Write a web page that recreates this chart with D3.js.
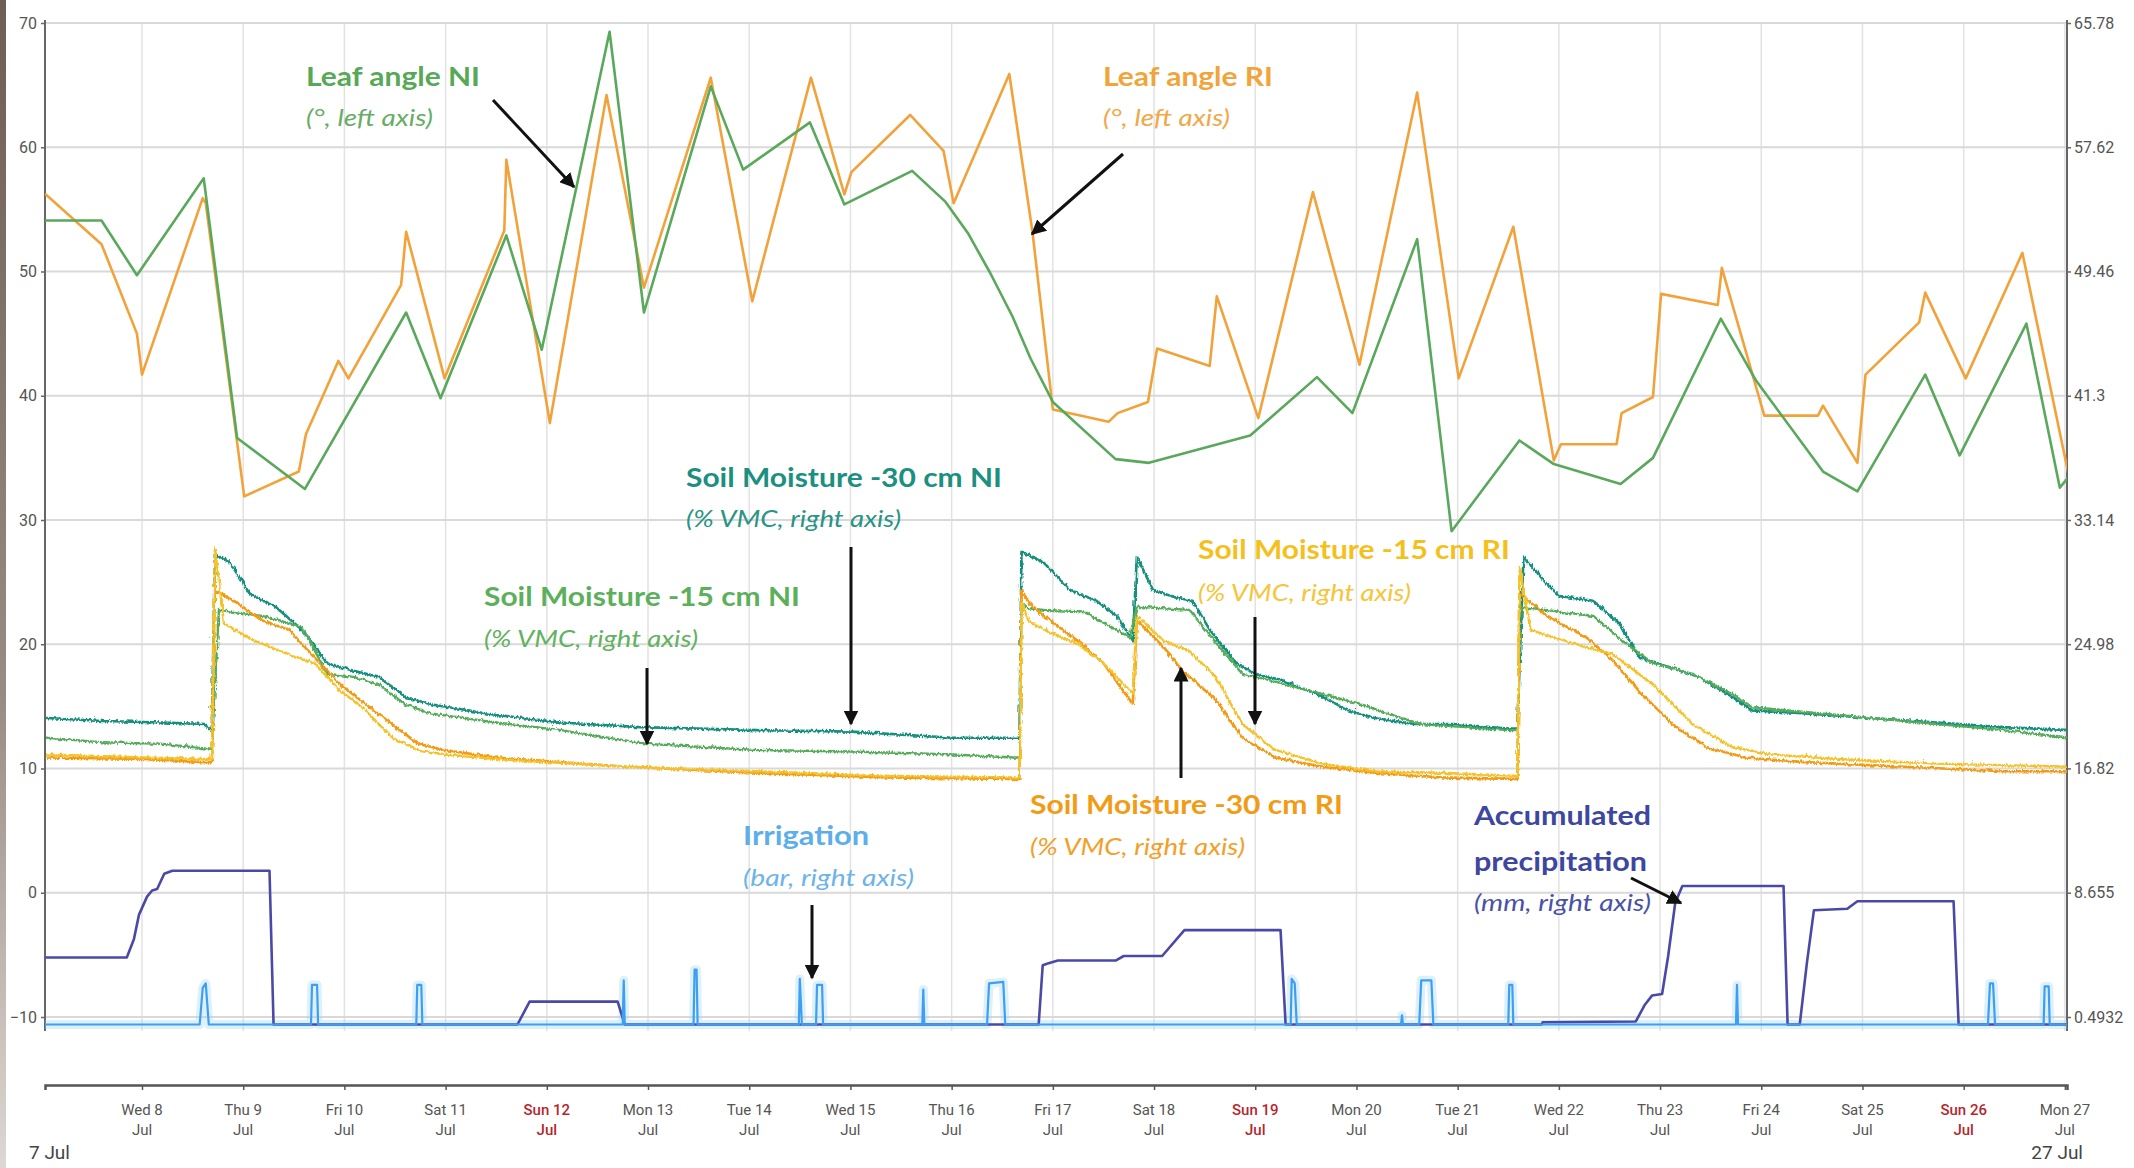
<!DOCTYPE html>
<html><head><meta charset="utf-8">
<script src="https://cdn.jsdelivr.net/npm/d3@7/dist/d3.min.js"></script>
<style>body{margin:0;background:#fff}svg{display:block}</style>
</head><body><svg id="c" width="2134" height="1168"></svg>
<script>
// ---------- DATA (time = fractional day of July 2020) ----------
const dayTicks = [8,9,10,11,12,13,14,15,16,17,18,19,20,21,22,23,24,25,26,27];
const leftTicks = [-10,0,10,20,30,40,50,60,70];
const rightTicks = [0.4932,8.655,16.82,24.98,33.14,41.3,49.46,57.62,65.78];
const rightTickLabels = ["0.4932","8.655","16.82","24.98","33.14","41.3","49.46","57.62","65.78"];

// Leaf angle (°, left axis)
const leafNI = [[7.05,54.1],[7.6,54.1],[7.95,49.7],[8.61,57.5],[8.94,36.6],[9.61,32.5],[10.61,46.7],[10.95,39.8],[11.6,52.9],[11.95,43.7],[12.62,69.3],[12.96,46.7],[13.62,64.9],[13.94,58.2],[14.6,62],[14.94,55.4],[15.61,58.1],[15.94,55.6],[16.16,53.1],[16.38,49.9],[16.6,46.4],[16.78,43],[17.0,39.5],[17.62,34.9],[17.95,34.6],[18.95,36.8],[19.61,41.5],[19.96,38.6],[20.6,52.6],[20.94,29.1],[21.61,36.4],[21.95,34.5],[22.61,32.9],[22.93,35],[23.6,46.2],[23.95,41.2],[24.61,33.9],[24.95,32.3],[25.62,41.7],[25.96,35.2],[26.62,45.8],[26.95,32.6],[27.04,33.5]];
const leafRI = [[7.05,56.2],[7.6,52.2],[7.95,45],[8.0,41.7],[8.6,55.9],[8.63,55.5],[9.01,31.9],[9.55,33.9],[9.62,36.9],[9.94,42.8],[10.04,41.4],[10.56,48.9],[10.61,53.2],[10.99,41.4],[11.58,53.3],[11.6,59],[12.03,37.8],[12.59,64.2],[12.96,48.7],[13.62,65.6],[14.03,47.6],[14.61,65.6],[14.94,56.2],[15.01,58],[15.59,62.6],[15.92,59.7],[16.02,55.5],[16.57,65.9],[16.8,53.1],[17.0,38.9],[17.55,37.9],[17.64,38.6],[17.94,39.5],[18.03,43.8],[18.55,42.4],[18.62,48],[19.03,38.2],[19.57,56.4],[20.03,42.5],[20.6,64.4],[21.01,41.4],[21.55,53.6],[21.95,34.8],[22.02,36.1],[22.57,36.1],[22.62,38.6],[22.93,39.9],[23.01,48.2],[23.57,47.3],[23.61,50.3],[24.03,38.4],[24.56,38.4],[24.61,39.2],[24.95,34.6],[25.03,41.7],[25.56,45.9],[25.62,48.3],[26.02,41.4],[26.58,51.5],[27.04,33.5]];

// Soil moisture (% VMC, right axis)
const soil30NI = [[7.05,20.2],[7.6,20.0],[8.2,19.9],[8.6,19.8],[8.68,19.4],[8.71,31.0],[8.86,30.4],[9.05,28.4],[9.31,27.5],[9.57,26.0],[9.82,23.8],[10.08,23.3],[10.33,22.9],[10.59,21.6],[10.84,21.1],[11.49,20.4],[12.13,19.9],[12.91,19.6],[14.06,19.4],[15.0,19.3],[16.0,18.9],[16.6,18.9],[16.66,18.9],[16.68,31.1],[16.75,30.9],[16.9,30.4],[17.16,28.6],[17.42,27.9],[17.62,26.9],[17.78,25.3],[17.82,30.8],[17.98,28.6],[18.21,28.1],[18.37,27.9],[18.54,26.0],[18.8,23.8],[18.99,23.1],[19.25,22.7],[19.65,21.6],[19.91,20.7],[20.17,20.2],[20.56,19.8],[20.95,19.8],[21.48,19.5],[21.58,19.5],[21.64,30.8],[21.87,29.0],[22.0,28.2],[22.33,27.9],[22.59,26.4],[22.78,24.2],[23.05,23.6],[23.37,22.9],[23.7,21.6],[23.9,20.7],[24.42,20.5],[25.07,20.2],[25.73,19.9],[26.38,19.6],[27.04,19.4]];
const soil15NI = [[7.05,18.9],[7.6,18.6],[8.2,18.5],[8.6,18.2],[8.68,18.2],[8.75,27.3],[9.18,26.9],[9.57,26.2],[9.82,23.1],[10.08,22.9],[10.33,22.4],[10.59,21.1],[10.84,20.5],[11.49,19.9],[12.13,19.4],[12.98,18.5],[14.06,18.1],[15.0,18.0],[16.0,17.8],[16.6,17.6],[16.66,17.6],[16.68,27.8],[16.75,27.4],[16.9,27.3],[17.29,27.2],[17.75,25.5],[17.82,27.5],[18.34,27.3],[18.47,26.2],[18.86,23.1],[19.12,22.7],[19.52,22.0],[20.04,21.1],[20.43,20.2],[20.63,19.8],[21.48,19.4],[21.58,19.4],[21.61,27.5],[22.33,26.9],[22.65,25.1],[22.92,23.8],[23.31,23.1],[23.7,21.8],[23.9,20.9],[24.75,20.4],[25.73,19.8],[26.38,19.4],[27.04,18.9]];
const soil30RI = [[7.05,17.6],[8.0,17.5],[8.6,17.3],[8.68,17.3],[8.71,28.6],[8.92,27.8],[9.18,26.6],[9.44,26.0],[9.69,24.2],[9.95,22.4],[10.2,21.1],[10.46,19.8],[10.72,18.5],[10.98,18.1],[11.49,17.6],[12.78,17.0],[14.06,16.6],[15.35,16.3],[16.6,16.2],[16.66,16.2],[16.68,28.6],[16.75,27.8],[16.9,26.9],[17.23,25.3],[17.49,23.8],[17.78,21.1],[17.82,26.6],[18.08,24.9],[18.27,23.3],[18.6,21.4],[18.86,18.9],[19.19,17.6],[19.65,17.0],[20.17,16.6],[20.82,16.3],[21.54,16.2],[21.58,16.2],[21.6,28.4],[21.87,26.9],[22.26,25.5],[22.52,24.0],[22.78,22.0],[23.11,19.8],[23.44,18.3],[23.83,17.6],[24.42,17.3],[25.4,17.0],[26.38,16.7],[27.04,16.7]];
const soil15RI = [[7.05,17.8],[8.0,17.6],[8.6,17.5],[8.68,17.5],[8.71,31.4],[8.8,26.4],[9.09,25.3],[9.44,24.4],[9.69,23.8],[9.95,22.0],[10.2,20.7],[10.46,18.9],[10.72,18.1],[10.98,17.8],[11.49,17.5],[12.78,17.0],[14.06,16.7],[15.35,16.4],[16.6,16.3],[16.66,16.3],[16.68,27.8],[16.75,26.6],[16.9,26.0],[17.23,25.1],[17.49,23.8],[17.78,21.8],[17.82,26.9],[18.08,25.3],[18.34,24.6],[18.6,22.9],[18.86,19.8],[19.19,18.1],[19.65,17.2],[20.17,16.7],[20.82,16.6],[21.54,16.4],[21.58,16.4],[21.6,30.1],[21.71,26.0],[22.13,25.1],[22.52,24.4],[22.92,22.4],[23.31,19.8],[23.7,18.3],[24.09,17.8],[24.75,17.5],[25.73,17.2],[27.04,17.0]];

// Irrigation (bar, right axis)
const irrigation = [[7.05,0],[8.57,0],[8.6,2.4],[8.63,2.7],[8.66,0],[9.67,0],[9.68,2.6],[9.73,2.6],[9.74,0],[10.71,0],[10.72,2.6],[10.76,2.6],[10.77,0],[12.75,0],[12.76,2.9],[12.77,0],[13.45,0],[13.46,3.6],[13.48,3.6],[13.49,0],[14.49,0],[14.5,3.0],[14.52,0],[14.66,0],[14.67,2.6],[14.72,2.6],[14.73,0],[15.71,0],[15.72,2.3],[15.73,0],[16.35,0],[16.37,2.7],[16.51,2.8],[16.53,0],[19.35,0],[19.36,3.0],[19.39,2.7],[19.41,0],[20.44,0],[20.45,0.6],[20.46,0],[20.62,0],[20.64,2.9],[20.74,2.9],[20.76,0],[21.5,0],[21.51,2.6],[21.54,2.6],[21.55,0],[23.75,0],[23.76,2.6],[23.77,0],[26.24,0],[26.26,2.7],[26.29,2.7],[26.31,0],[26.79,0],[26.8,2.5],[26.84,2.5],[26.85,0],[27.04,0]];

// Accumulated precipitation (mm, right axis)
const precipitation = [[7.05,4.4],[7.85,4.4],[7.92,5.6],[7.97,7.2],[8.05,8.4],[8.1,8.8],[8.15,8.9],[8.22,9.9],[8.3,10.1],[9.26,10.1],[9.3,0],[11.71,0],[11.83,1.5],[12.7,1.5],[12.77,0],[16.86,0],[16.9,3.9],[16.95,4.0],[17.05,4.2],[17.62,4.2],[17.7,4.5],[18.08,4.5],[18.3,6.2],[19.25,6.2],[19.3,0],[21.83,0],[21.84,0.15],[22.76,0.2],[22.85,1.3],[22.92,1.9],[23.02,2.0],[23.08,4.5],[23.15,8.0],[23.22,9.1],[24.22,9.1],[24.26,0],[24.38,0],[24.45,4.0],[24.52,7.5],[24.85,7.6],[24.95,8.1],[25.9,8.1],[25.95,0],[27.04,0]];

// ---------- CHART ----------
const svg = d3.select('#c');
const X0 = 45, X1 = 2067, Y0 = 23, Y1 = 1017, YB = 1031, XA = 1085;
const base = new Date(2020, 6, 1).getTime();
const toDate = t => new Date(base + (t - 1) * 864e5);
const x = d3.scaleTime().domain([toDate(7 + 1/24), toDate(27 + 0.5/24)]).range([X0, X1]);
const yL = d3.scaleLinear().domain([-10, 70]).range([Y1, Y0]);
const yR = d3.scaleLinear().domain([0.4932, 65.78]).range([Y1, Y0]);

// left photo edge
const defs = svg.append('defs');
const lg = defs.append('linearGradient').attr('id','edge').attr('x1',0).attr('y1',0).attr('x2',0).attr('y2',1);
lg.append('stop').attr('offset','0').attr('stop-color','#6d5d54');
lg.append('stop').attr('offset','0.6').attr('stop-color','#9a8c84');
lg.append('stop').attr('offset','1').attr('stop-color','#ddd8d4');
svg.append('rect').attr('x',0).attr('y',0).attr('width',6).attr('height',1168).attr('fill','url(#edge)');
defs.append('clipPath').attr('id','plot').append('rect').attr('x',X0).attr('y',Y0-8).attr('width',X1-X0).attr('height',YB-Y0+8);
const mk = defs.append('marker').attr('id','ah').attr('viewBox','0 0 10 10').attr('refX',9).attr('refY',5)
  .attr('markerWidth',5).attr('markerHeight',5).attr('orient','auto').attr('markerUnits','strokeWidth');
mk.append('path').attr('d','M0,0 L10,5 L0,10 z').attr('fill','#111');
// sensor-noise look for the soil moisture traces (visual texture only)
const flt = defs.append('filter').attr('id','jit').attr('x','-2%').attr('y','-5%').attr('width','104%').attr('height','110%');
flt.append('feTurbulence').attr('type','turbulence').attr('baseFrequency','0.35 0.08').attr('numOctaves',1).attr('seed',3).attr('result','n');
flt.append('feDisplacementMap').attr('in','SourceGraphic').attr('in2','n').attr('scale',3.5).attr('xChannelSelector','R').attr('yChannelSelector','G');

// grid
const g = svg.append('g');
g.selectAll('.vg').data(dayTicks).join('line')
  .attr('x1',d=>x(toDate(d))).attr('x2',d=>x(toDate(d))).attr('y1',Y0).attr('y2',YB)
  .attr('stroke','#e2e2e2').attr('stroke-width',1.5);
g.selectAll('.hg').data(leftTicks).join('line')
  .attr('x1',X0).attr('x2',X1).attr('y1',d=>yL(d)).attr('y2',d=>yL(d))
  .attr('stroke','#d9d9d9').attr('stroke-width',2);

// axes
const axL = svg.append('g').attr('transform',`translate(${X0},0)`)
  .call(d3.axisLeft(yL).tickValues(leftTicks).tickSize(4).tickPadding(4).tickFormat(d3.format('d')));
const axR = svg.append('g').attr('transform',`translate(${X1},0)`)
  .call(d3.axisRight(yR).tickValues(rightTicks).tickSize(4).tickPadding(3).tickFormat((d,i)=>rightTickLabels[i]));
[axL, axR].forEach(a => {
  a.select('.domain').remove();
  a.selectAll('line').attr('stroke','#666').attr('stroke-width',1.5);
  a.selectAll('text').attr('font-family','Roboto, sans-serif').attr('font-size',16).attr('fill','#555');
});
svg.append('line').attr('x1',X0).attr('x2',X0).attr('y1',Y0-3).attr('y2',YB).attr('stroke','#666').attr('stroke-width',2);
svg.append('line').attr('x1',X1).attr('x2',X1).attr('y1',Y0-3).attr('y2',YB).attr('stroke','#666').attr('stroke-width',2);

// x axis (separate, below)
const axB = svg.append('g').attr('transform',`translate(0,${XA})`)
  .call(d3.axisBottom(x).tickValues(dayTicks.map(toDate)).tickSize(5).tickFormat(''));
axB.select('.domain').attr('stroke','#555').attr('stroke-width',2.5);
axB.selectAll('line').attr('stroke','#555').attr('stroke-width',1.5);
const fmtDay = d3.timeFormat('%a %-d');
const lab = svg.append('g').attr('font-family','Roboto, sans-serif').attr('font-size',15).attr('text-anchor','middle');
dayTicks.forEach(d => {
  const dt = toDate(d), sun = dt.getDay() === 0;
  const t = lab.append('text').attr('fill', sun ? '#b5272d' : '#555').attr('font-weight', sun ? 500 : 400);
  t.append('tspan').attr('x', x(dt)).attr('y', XA + 30).text(fmtDay(dt));
  t.append('tspan').attr('x', x(dt)).attr('y', XA + 50).text('Jul');
});
svg.append('text').attr('x',29).attr('y',1159).attr('font-family','Roboto, sans-serif').attr('font-size',19).attr('fill','#444').text('7 Jul');
svg.append('text').attr('x',2083).attr('y',1159).attr('text-anchor','end').attr('font-family','Roboto, sans-serif').attr('font-size',19).attr('fill','#444').text('27 Jul');

// series
const plot = svg.append('g').attr('clip-path','url(#plot)');
const soilG = plot.append('g').attr('filter','url(#jit)');
const lineR = d3.line().x(d=>x(toDate(d[0]))).y(d=>yR(d[1]));
const lineL = d3.line().x(d=>x(toDate(d[0]))).y(d=>yL(d[1]));
function draw(parent, data, gen, color, w, op=1){
  parent.append('path').datum(data).attr('d',gen).attr('fill','none').attr('stroke',color)
    .attr('stroke-width',w).attr('stroke-linejoin','round').attr('stroke-linecap','round').attr('opacity',op);
}
draw(plot, irrigation, lineR, '#9fd3fb', 9, 0.35);
draw(plot, precipitation, lineR, '#4a4aa6', 2.6);
draw(plot, irrigation, lineR, '#3d9ff0', 2.2);
draw(soilG, soil30NI, lineR, '#17907e', 2.6);
draw(soilG, soil15NI, lineR, '#55ad5a', 2.4);
draw(soilG, soil30RI, lineR, '#f39a12', 2.6);
draw(soilG, soil15RI, lineR, '#f6c22a', 2.4);
draw(plot, leafRI, lineL, '#f2a23a', 2.6);
draw(plot, leafNI, lineL, '#5aa85c', 2.6);

// annotations
const notes = [
  ['Leaf angle NI',306,86,'b','#57a857',174],
  ['(°, left axis)',306,126,'i','#67ad67',127],
  ['Leaf angle RI',1103,86,'b','#f0a43a',170],
  ['(°, left axis)',1103,126,'i','#f0a848',127],
  ['Soil Moisture -30 cm NI',686,487,'b','#1b8f80',316],
  ['(% VMC, right axis)',686,527,'i','#2a9486',215],
  ['Soil Moisture -15 cm NI',484,606,'b','#5cb05c',316],
  ['(% VMC, right axis)',484,647,'i','#62b262',214],
  ['Soil Moisture -15 cm RI',1198,559,'b','#f4c01c',312],
  ['(% VMC, right axis)',1198,601,'i','#f5c53a',213],
  ['Soil Moisture -30 cm RI',1030,814,'b','#f29b14',313],
  ['(% VMC, right axis)',1030,855,'i','#f2a02a',215],
  ['Irrigation',743,845,'b','#5daee9',126],
  ['(bar, right axis)',743,886,'i','#6db4e8',171],
  ['Accumulated',1474,825,'b','#3d46a0',177],
  ['precipitation',1474,871,'b','#3d46a0',173],
  ['(mm, right axis)',1474,911,'i','#4a52a6',177]
];
const ng = svg.append('g').attr('font-family','Lato, "Open Sans", sans-serif');
notes.forEach(([t,xx,yy,st,c,w]) => {
  ng.append('text').attr('x',xx).attr('y',yy).attr('fill',c)
    .attr('font-size', st==='b' ? 27 : 24)
    .attr('font-weight', st==='b' ? 700 : 400)
    .attr('font-style', st==='i' ? 'italic' : 'normal')
    .attr('textLength', w).attr('lengthAdjust','spacingAndGlyphs').text(t);
});
const arrows = [[493,100,574,187],[1123,154,1032,234],[851,547,851,724],[647,668,647,744],[1255,617,1255,724],[1181,778,1181,668],[812,905,812,978],[1631,878,1681,903]];
svg.append('g').selectAll('line').data(arrows).join('line')
  .attr('x1',d=>d[0]).attr('y1',d=>d[1]).attr('x2',d=>d[2]).attr('y2',d=>d[3])
  .attr('stroke','#111').attr('stroke-width',3).attr('marker-end','url(#ah)');
</script></body></html>
